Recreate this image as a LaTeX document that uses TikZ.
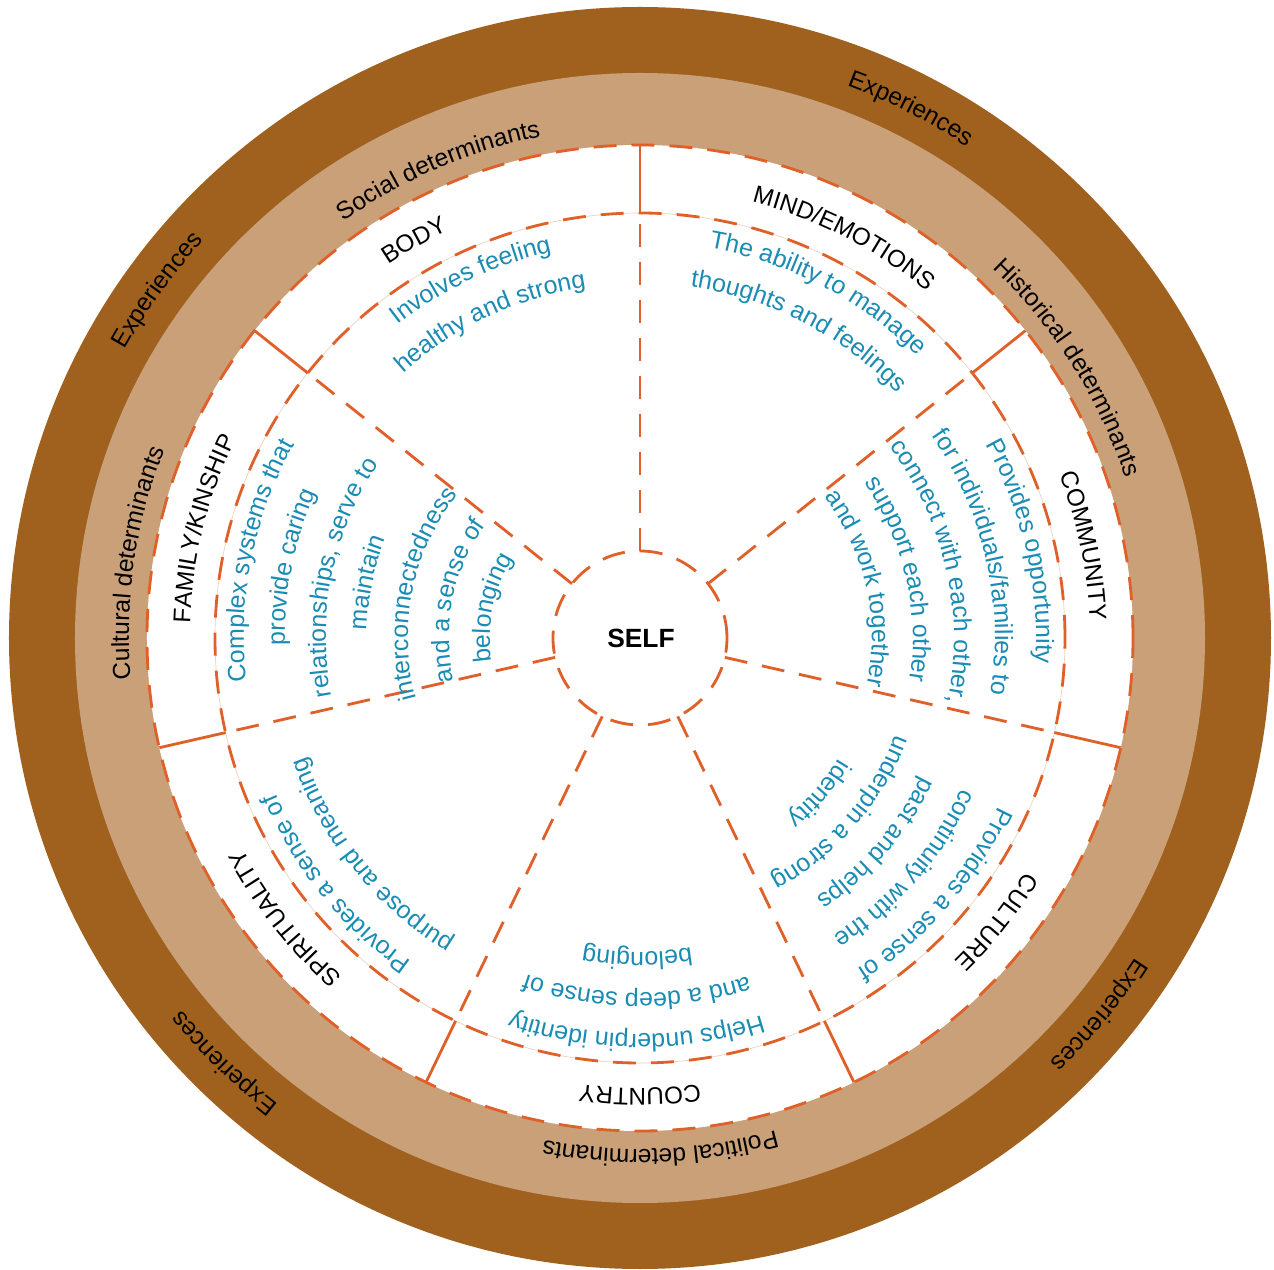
\documentclass[tikz,border=0pt]{standalone}
\usepackage{fontspec}
\setmainfont{Liberation Sans}
\usetikzlibrary{decorations.text}
\definecolor{ringdark}{HTML}{A0611F}
\definecolor{ringtan}{HTML}{C9A078}
\definecolor{dashcol}{HTML}{E0602A}
\definecolor{desccol}{HTML}{1A8CB4}

% fonts for the curved labels
\newcommand{\ringfont}{\fontsize{14}{16}\selectfont\color{black}}
\newcommand{\namefont}{\fontsize{13.8}{16}\selectfont\color{black}}
\newcommand{\descfont}{\fontsize{14.2}{17}\selectfont\color{desccol}}

% text on a clockwise arc round the centre: #1 angle, #2 baseline radius, #3 font, #4 text
\newcommand{\arctext}[4]{%
  \path[decorate, decoration={text along path, text align=center, text={|#3|#4}}]
    ({#1+70}:#2) arc[start angle={#1+70}, end angle={#1-70}, radius=#2];%
}

\begin{document}
\begin{tikzpicture}[
  dashline/.style={draw=dashcol, line width=1.6pt, dash pattern=on 0.46cm off 0.3cm},
  segline/.style={draw=dashcol, line width=1.6pt},
  faintline/.style={draw=ringtan!45, line width=0.4pt},
  selflabel/.style={font=\bfseries\fontsize{15}{18}\selectfont},
]
\useasboundingbox (-12.8,-12.64) rectangle (12.68,12.76);

% =================== rings ===================
\fill[ringdark] (0,0) circle[radius=12.62cm];
\fill[ringtan] (0,0) circle[radius=11.3cm];
\fill[white] (0,0) circle[radius=9.86cm];
\draw[faintline] (0,0) circle[radius=8.5cm];

% =================== segment borders ===================
\draw[dashline] (0,0) circle[radius=9.86cm];
\draw[dashline] (0,0) circle[radius=8.5cm];
\foreach \k in {0,...,6} {
  \draw[segline] ({90-\k*360/7}:8.5cm) -- ({90-\k*360/7}:9.86cm);
  \draw[dashline] ({90-\k*360/7}:1.74cm) -- ({90-\k*360/7}:8.5cm);
}
\draw[dashline] (0,0) circle[radius=1.74cm];

\node[selflabel] (self) at (0.02,0) {SELF};

% =================== outer ring labels ===================
\arctext{144.2}{11.8cm}{\ringfont}{Experiences}
\arctext{62.9}{11.8cm}{\ringfont}{Experiences}
\arctext{-39.4}{11.8cm}{\ringfont}{Experiences}
\arctext{-134.4}{11.8cm}{\ringfont}{Experiences}

\arctext{113.3}{10.22cm}{\ringfont}{Social determinants}
\arctext{32.3}{10.22cm}{\ringfont}{Historical determinants}
\arctext{171.5}{10.22cm}{\ringfont}{Cultural determinants}
\arctext{-87.7}{10.22cm}{\ringfont}{Political determinants}

% =================== segment names ===================
\arctext{119.6}{9.0cm}{\namefont}{BODY}
\arctext{63.0}{9.0cm}{\namefont}{MIND/EMOTIONS}
\arctext{11.75}{9.0cm}{\namefont}{COMMUNITY}
\arctext{-38.5}{9.0cm}{\namefont}{CULTURE}
\arctext{-90}{9.0cm}{\namefont}{COUNTRY}
\arctext{-141.7}{9.0cm}{\namefont}{SPIRITUALITY}
\arctext{166}{9.0cm}{\namefont}{FAMILY/KINSHIP}

% =================== descriptions ===================
% body
\arctext{115.3}{7.92cm}{\descfont}{Involves feeling}
\arctext{115.3}{7.10cm}{\descfont}{healthy and strong}

% mind/emotions
\arctext{62.7}{7.92cm}{\descfont}{The ability to manage}
\arctext{62.7}{7.10cm}{\descfont}{thoughts and feelings}

% community
\arctext{12.8}{7.92cm}{\descfont}{Provides opportunity}
\arctext{12.8}{7.10cm}{\descfont}{for individuals/families to}
\arctext{12.8}{6.28cm}{\descfont}{connect with each other,}
\arctext{12.8}{5.46cm}{\descfont}{support each other}
\arctext{12.8}{4.64cm}{\descfont}{and work together}

% culture
\arctext{-41}{7.92cm}{\descfont}{Provides a sense of}
\arctext{-41}{7.10cm}{\descfont}{continuity with the}
\arctext{-41}{6.28cm}{\descfont}{past and helps}
\arctext{-41}{5.46cm}{\descfont}{underpin a strong}
\arctext{-41}{4.64cm}{\descfont}{identity}

% country
\arctext{-90.5}{7.92cm}{\descfont}{Helps underpin identity}
\arctext{-90.5}{7.10cm}{\descfont}{and a deep sense of}
\arctext{-90.5}{6.28cm}{\descfont}{belonging}

% spirituality
\arctext{-141}{7.92cm}{\descfont}{Provides a sense of}
\arctext{-141}{7.10cm}{\descfont}{purpose and meaning}

% family/kinship
\arctext{168.5}{7.92cm}{\descfont}{Complex systems that}
\arctext{168.5}{7.10cm}{\descfont}{provide caring}
\arctext{168.5}{6.28cm}{\descfont}{relationships, serve to}
\arctext{168.5}{5.46cm}{\descfont}{maintain}
\arctext{168.5}{4.64cm}{\descfont}{interconnectedness}
\arctext{168.5}{3.82cm}{\descfont}{and a sense of}
\arctext{168.5}{3.00cm}{\descfont}{belonging}

\end{tikzpicture}
\end{document}
